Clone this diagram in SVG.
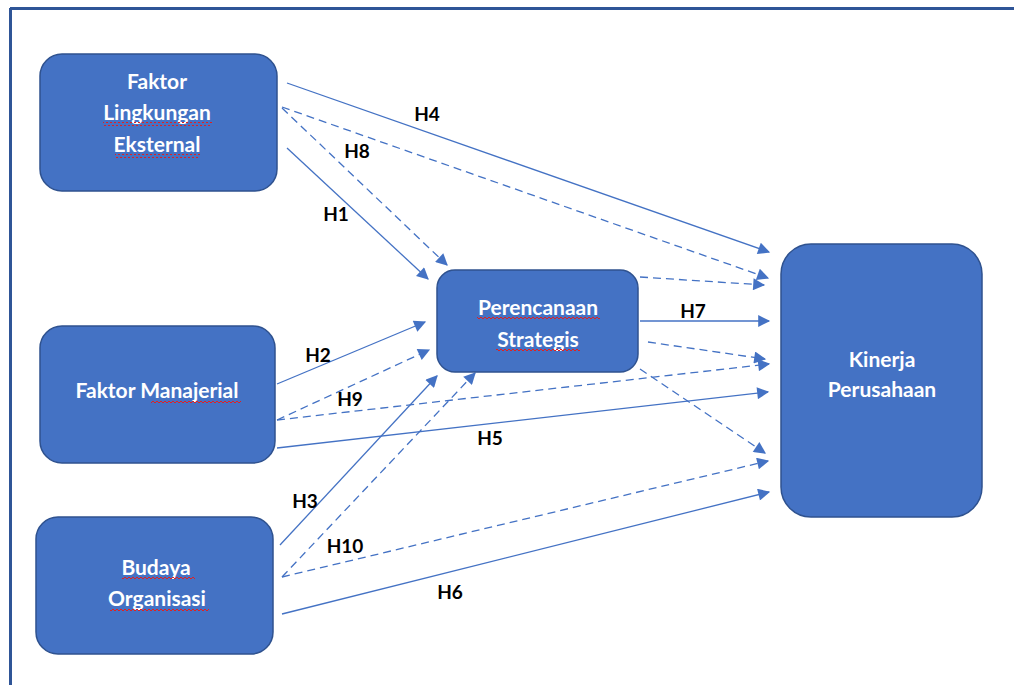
<svg xmlns="http://www.w3.org/2000/svg" width="1014" height="685" viewBox="0 0 1014 685">
<style>
.node{fill:#4472C4;stroke:#2F528F;stroke-width:1.5}
.nt{font-family:Lato,"Open Sans",sans-serif;font-weight:bold;font-size:21px;fill:#FFFFFF;text-anchor:middle}
.lbl{font-family:Lato,"Open Sans",sans-serif;font-weight:bold;font-size:19px;fill:#000000;text-anchor:middle}
.c{stroke:#4472C4;stroke-width:1.3;fill:none}
.d{stroke-dasharray:8 5}
</style>
<defs>
<marker id="ah2" viewBox="0 0 10 10" refX="9" refY="5" markerWidth="16" markerHeight="12" markerUnits="userSpaceOnUse" orient="auto">
<path d="M0,0 L10,5 L0,10 Z" fill="#4472C4"/>
</marker>
<pattern id="wave" width="4" height="4" patternUnits="userSpaceOnUse">
<path d="M0,2 L1,1 L3,3 L4,2" fill="none" stroke="#E02020" stroke-width="1"/>
</pattern>
</defs>
<rect x="0" y="0" width="1014" height="685" fill="#FFFFFF"/>
<g id="frame">
<line x1="10" y1="8.5" x2="1014" y2="8.5" stroke="#2F5597" stroke-width="3"/>
<line x1="10.5" y1="8" x2="10.5" y2="685" stroke="#2F5597" stroke-width="3"/>
</g>
<g id="connectors" marker-end="url(#ah2)">
<line class="c" x1="287" y1="83" x2="769" y2="252" marker-end="url(#ah2)"/>
<line class="c d" x1="282" y1="107" x2="768" y2="278" marker-end="url(#ah2)"/>
<line class="c d" x1="282" y1="108" x2="447" y2="265" marker-end="url(#ah2)"/>
<line class="c" x1="287" y1="148" x2="428" y2="279" marker-end="url(#ah2)"/>
<line class="c d" x1="640" y1="277" x2="764" y2="285" marker-end="url(#ah2)"/>
<line class="c" x1="640" y1="321" x2="769" y2="321" marker-end="url(#ah2)"/>
<line class="c d" x1="648" y1="342" x2="765" y2="359" marker-end="url(#ah2)"/>
<line class="c d" x1="640" y1="369" x2="765" y2="453" marker-end="url(#ah2)"/>
<line class="c" x1="277" y1="384" x2="425" y2="322" marker-end="url(#ah2)"/>
<line class="c d" x1="277" y1="420" x2="429" y2="350" marker-end="url(#ah2)"/>
<line class="c d" x1="277" y1="420" x2="769" y2="364" marker-end="url(#ah2)"/>
<line class="c" x1="277" y1="448" x2="768" y2="392" marker-end="url(#ah2)"/>
<line class="c" x1="280" y1="545" x2="437" y2="376" marker-end="url(#ah2)"/>
<line class="c d" x1="282" y1="577" x2="475" y2="373" marker-end="url(#ah2)"/>
<line class="c d" x1="282" y1="577" x2="768" y2="461" marker-end="url(#ah2)"/>
<line class="c" x1="282" y1="614" x2="769" y2="492" marker-end="url(#ah2)"/>
</g>
<g id="labels">
<text class="lbl" x="427" y="121">H4</text>
<text class="lbl" x="357" y="158">H8</text>
<text class="lbl" x="336" y="221">H1</text>
<text class="lbl" x="693" y="318">H7</text>
<text class="lbl" x="318" y="362">H2</text>
<text class="lbl" x="350" y="406">H9</text>
<text class="lbl" x="490" y="445">H5</text>
<text class="lbl" x="305" y="508">H3</text>
<text class="lbl" x="345" y="553">H10</text>
<text class="lbl" x="450" y="599">H6</text>
</g>
<g id="node-faktor-lingkungan">
<rect class="node" x="40" y="54" width="237" height="137" rx="22"/>
<text class="nt" x="157" y="89">Faktor</text>
<text class="nt" x="157" y="120">Lingkungan</text>
<text class="nt" x="157" y="152">Eksternal</text>
<rect x="103" y="122" width="109" height="4" fill="url(#wave)"/>
<rect x="115" y="154" width="85" height="4" fill="url(#wave)"/>
</g>
<g id="node-faktor-manajerial">
<rect class="node" x="40" y="326" width="235" height="137" rx="22"/>
<text class="nt" x="157" y="398">Faktor Manajerial</text>
<rect x="151" y="400" width="90" height="4" fill="url(#wave)"/>
</g>
<g id="node-budaya">
<rect class="node" x="36" y="517" width="237" height="137" rx="22"/>
<text class="nt" x="156" y="575">Budaya</text>
<text class="nt" x="157" y="606">Organisasi</text>
<rect x="122" y="576" width="73" height="4" fill="url(#wave)"/>
<rect x="110" y="607" width="99" height="4" fill="url(#wave)"/>
</g>
<g id="node-perencanaan">
<rect class="node" x="437" y="270" width="201" height="102" rx="18"/>
<text class="nt" x="538" y="315">Perencanaan</text>
<text class="nt" x="538" y="347">Strategis</text>
<rect x="477" y="317" width="123" height="4" fill="url(#wave)"/>
<rect x="496" y="349" width="84" height="4" fill="url(#wave)"/>
</g>
<g id="node-kinerja">
<rect class="node" x="781" y="244" width="201" height="273" rx="30"/>
<text class="nt" x="882" y="367">Kinerja</text>
<text class="nt" x="882" y="397">Perusahaan</text>
</g>
</svg>
